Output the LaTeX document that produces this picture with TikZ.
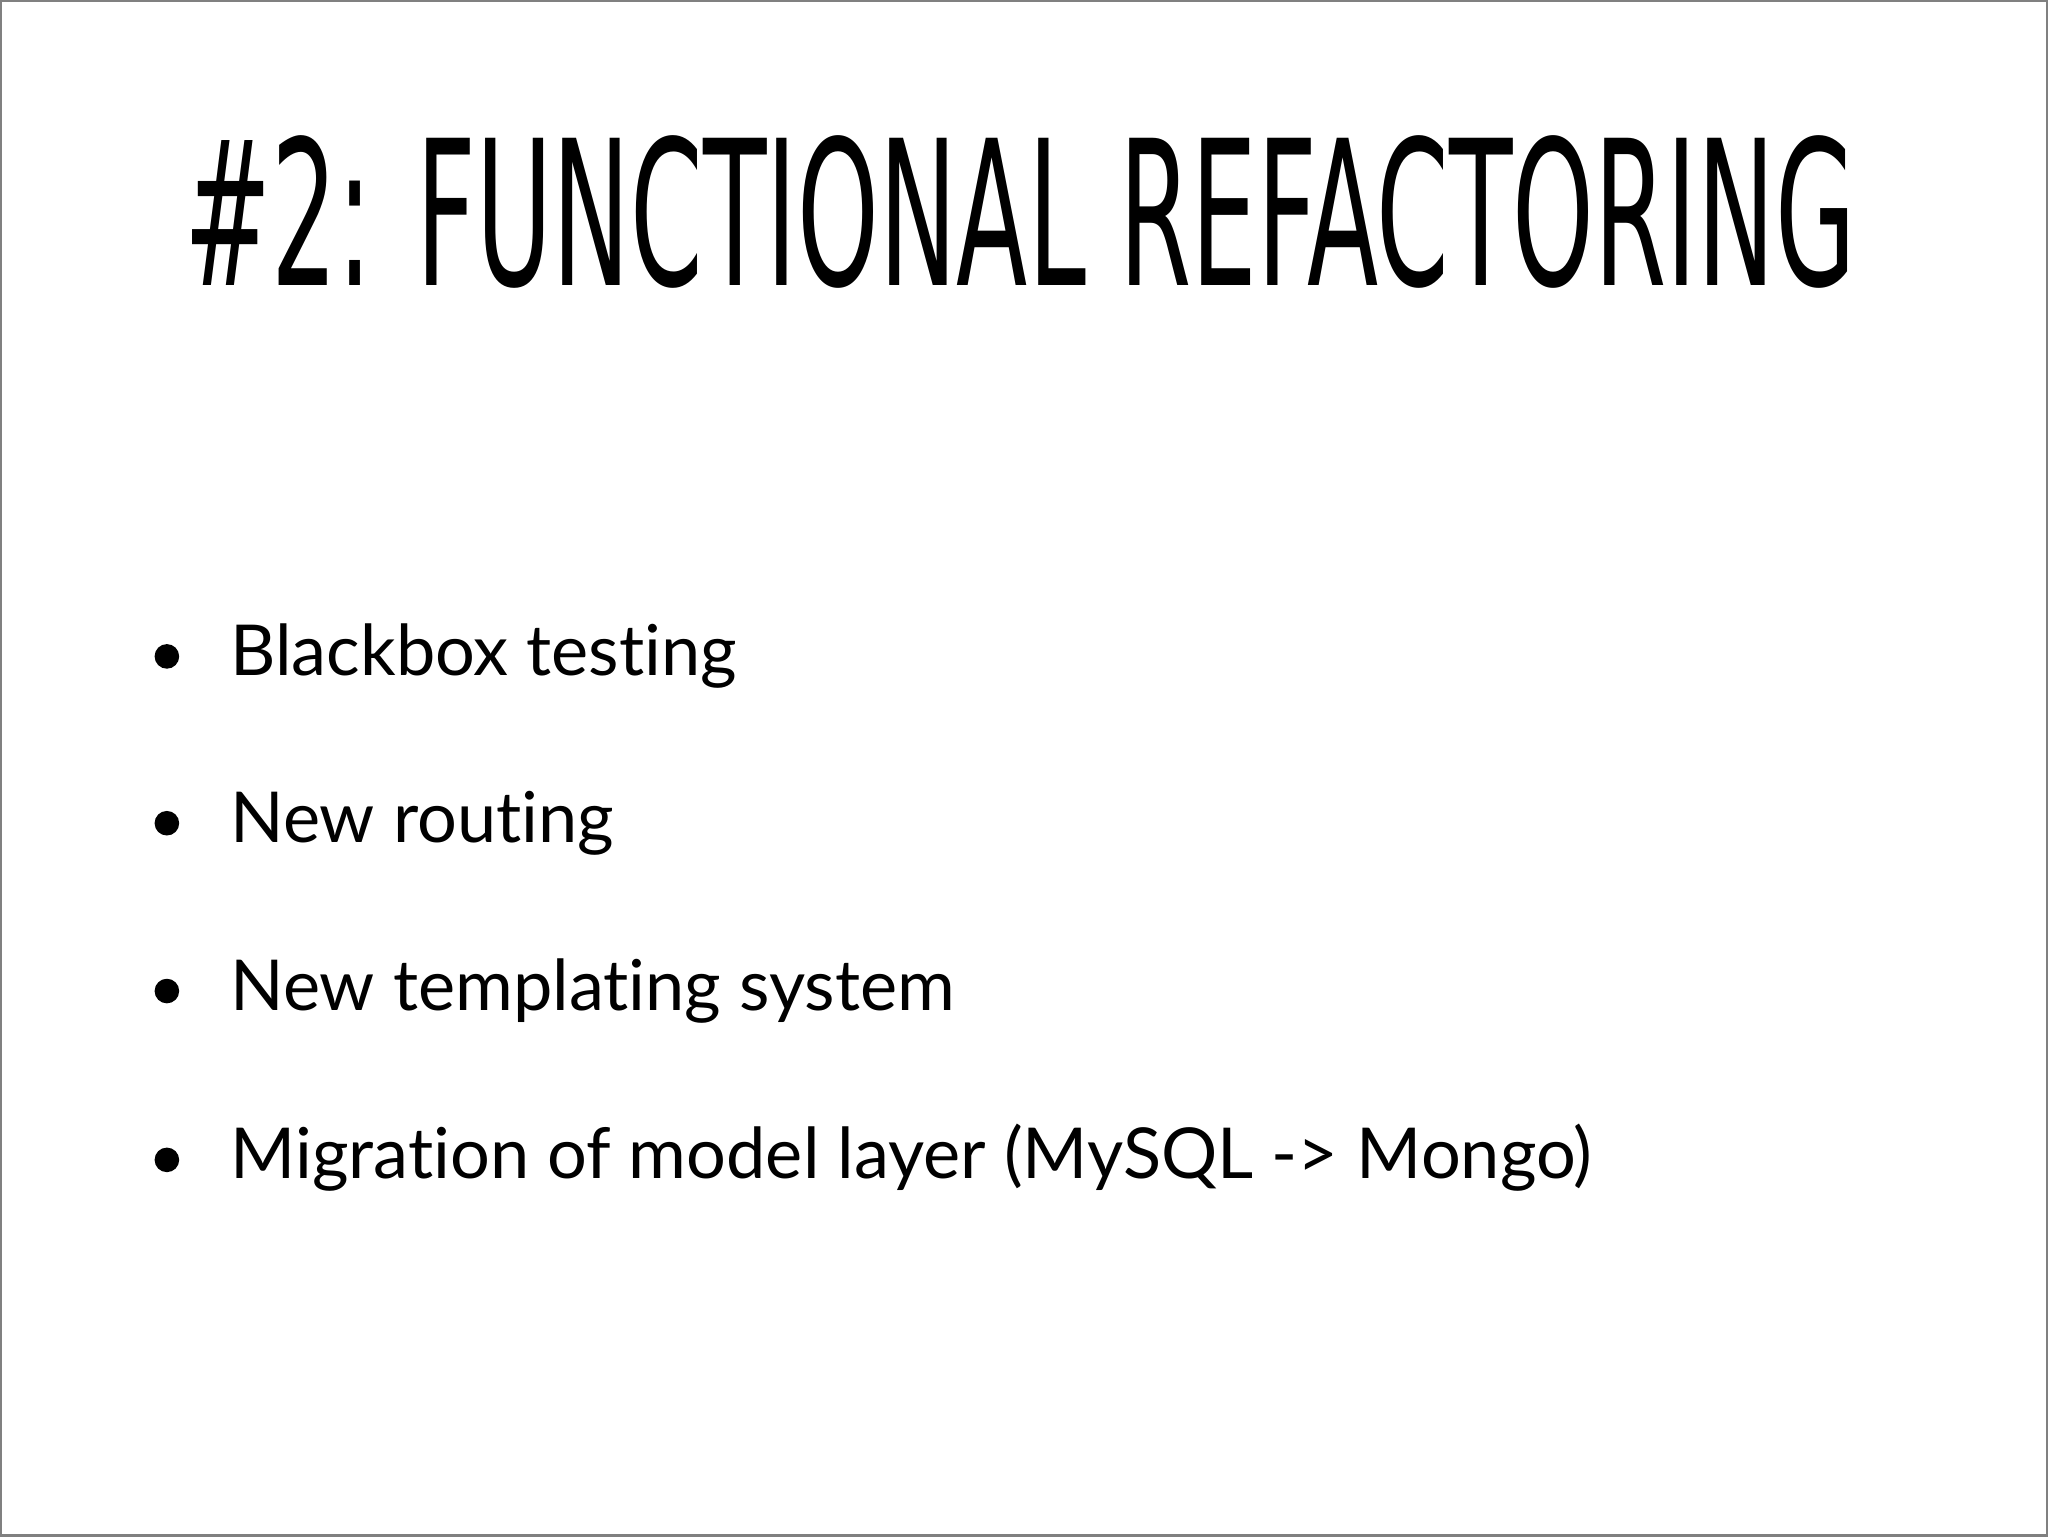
\documentclass[tikz,border=0pt]{standalone}
\usepackage{fontspec}
\setmainfont{Lato}[Ligatures={NoCommon}]
\newfontfamily\titlefont{DejaVu Sans}
\begin{document}
\begin{tikzpicture}[x=0.01cm,y=-0.01cm,
  item/.style={anchor=base west,inner sep=0pt,font=\fontsize{20}{24}\selectfont},
  dot/.style={circle,fill=black,inner sep=0pt,minimum size=7}]
\draw[gray,line width=0.6pt,fill=white] (0,0) rectangle (2048,1536);
\useasboundingbox (0,0) rectangle (2048,1536);
\node[anchor=base west,inner sep=0pt] (title) at (183,285)
  {\resizebox{16.72cm}{1.5cm}{\titlefont\uppercase{\#2: Functional Refactoring}}};
\node[item] (i1) at (229,675) {Blackbox testing};
\node[item] (i2) at (229,842) {New routing};
\node[item] (i3) at (229,1010) {New templating system};
\node[item] (i4) at (229,1179) {Migration of model layer (MySQL -> Mongo)};
\foreach \y [count=\i] in {656,823,991,1160} \node[dot] (b\i) at (166,\y) {};
\end{tikzpicture}
\end{document}
